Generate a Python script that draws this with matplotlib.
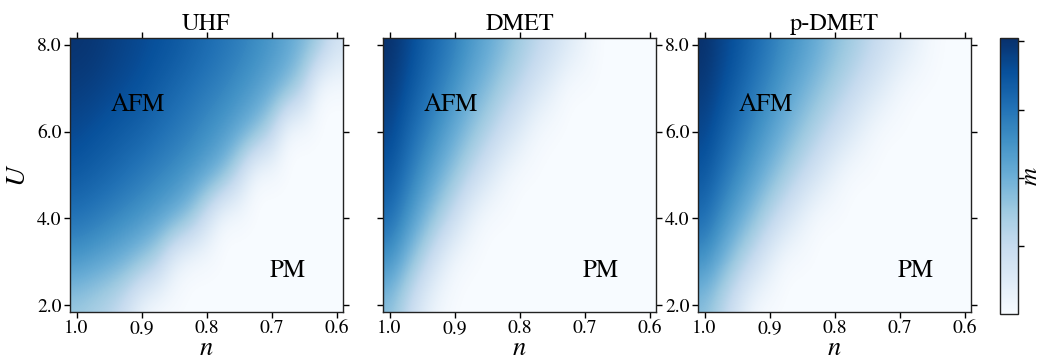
import numpy as np
import matplotlib
matplotlib.use("Agg")
import matplotlib.pyplot as plt
from matplotlib import colors

plt.rcParams["font.family"] = ["STIXGeneral", "DejaVu Serif"]
plt.rcParams["mathtext.fontset"] = "stix"

# Grid of fillings (columns) and interaction strengths (rows)
n_vals = [1.0, 0.975, 0.95, 0.925, 0.9, 0.875, 0.85, 0.825, 0.8,
          0.775, 0.75, 0.725, 0.7, 0.675, 0.65, 0.625, 0.6]
U_vals = [2.0, 3.0, 4.0, 5.0, 6.0, 7.0, 8.0]

# Staggered magnetization m(U, n)
m_uhf = [
    [.15, .135, .115, .08, .02, 0, 0, 0, 0, 0, 0, 0, 0, 0, 0, 0, 0],
    [.24, .225, .21, .19, .16, .12, .03, 0, 0, 0, 0, 0, 0, 0, 0, 0, 0],
    [.30, .29, .275, .26, .245, .225, .20, .16, .08, 0, 0, 0, 0, 0, 0, 0, 0],
    [.34, .33, .32, .305, .29, .275, .26, .24, .215, .18, .10, 0, 0, 0, 0, 0, 0],
    [.365, .355, .345, .335, .325, .31, .295, .28, .26, .24, .215, .18, .12, 0, 0, 0, 0],
    [.385, .38, .37, .36, .35, .335, .32, .305, .29, .275, .255, .235, .21, .18, .12, 0, 0],
    [.40, .395, .385, .375, .365, .355, .345, .33, .315, .30, .285, .265, .245, .22, .19, .15, .08],
]
m_dmet = [
    [.17, .11, .05, .01, 0, 0, 0, 0, 0, 0, 0, 0, 0, 0, 0, 0, 0],
    [.25, .19, .125, .06, .01, 0, 0, 0, 0, 0, 0, 0, 0, 0, 0, 0, 0],
    [.31, .255, .20, .145, .09, .03, 0, 0, 0, 0, 0, 0, 0, 0, 0, 0, 0],
    [.345, .30, .25, .205, .16, .11, .065, .02, 0, 0, 0, 0, 0, 0, 0, 0, 0],
    [.37, .33, .29, .25, .21, .17, .13, .09, .05, .01, 0, 0, 0, 0, 0, 0, 0],
    [.39, .355, .32, .285, .25, .21, .18, .14, .11, .07, .035, 0, 0, 0, 0, 0, 0],
    [.405, .375, .34, .31, .28, .245, .215, .185, .15, .12, .09, .057, .025, 0, 0, 0, 0],
]
m_pdmet = [
    [.17, .12, .065, .01, 0, 0, 0, 0, 0, 0, 0, 0, 0, 0, 0, 0, 0],
    [.25, .20, .145, .095, .04, 0, 0, 0, 0, 0, 0, 0, 0, 0, 0, 0, 0],
    [.31, .26, .215, .17, .12, .075, .03, 0, 0, 0, 0, 0, 0, 0, 0, 0, 0],
    [.345, .305, .265, .225, .185, .145, .105, .065, .025, 0, 0, 0, 0, 0, 0, 0, 0],
    [.37, .335, .30, .265, .23, .195, .16, .125, .09, .056, .02, 0, 0, 0, 0, 0, 0],
    [.39, .36, .33, .295, .265, .23, .20, .17, .14, .107, .075, .045, .012, 0, 0, 0, 0],
    [.405, .375, .35, .32, .29, .26, .235, .205, .175, .15, .12, .09, .063, .034, .006, 0, 0],
]

titles = ["UHF", "DMET", "p-DMET"]
panels = [m_uhf, m_dmet, m_pdmet]

x_ticks = [1.0, 0.9, 0.8, 0.7, 0.6]
y_ticks = [2.0, 4.0, 6.0, 8.0]
cbar_ticks = [0.1, 0.2, 0.3, 0.4]

W, H = 1043, 360
fig = plt.figure(figsize=(W / 100, H / 100), dpi=100)

norm = colors.Normalize(vmin=0.0, vmax=0.405)
cmap = plt.get_cmap("Blues")

lefts = [70, 383, 698]
ax_w, ax_bottom, ax_top = 273, 312, 38

dn = abs(n_vals[1] - n_vals[0]) / 2
dU = (U_vals[1] - U_vals[0]) / 2
extent = [n_vals[0] + dn, n_vals[-1] - dn, U_vals[0] - dU, U_vals[-1] + dU]

im = None
for i, (left, data, title) in enumerate(zip(lefts, panels, titles)):
    ax = fig.add_axes([left / W, 1 - ax_bottom / H, ax_w / W, (ax_bottom - ax_top) / H])
    im = ax.imshow(np.array(data), origin="lower", extent=extent, aspect="auto",
                   cmap=cmap, norm=norm, interpolation="bicubic")
    ax.set_xlim(1.01, 0.59)
    ax.set_ylim(1.85, 8.15)
    ax.set_xticks(x_ticks)
    ax.set_xticklabels([f"{v:.1f}" for v in x_ticks])
    ax.set_yticks(y_ticks)
    ax.set_yticklabels([f"{v:.1f}" for v in y_ticks])
    ax.tick_params(direction="out", top=True, right=True, labelsize=14,
                   length=4, width=1, pad=2)
    if i == 1:
        ax.tick_params(labelleft=False)
    ax.set_title(title, fontsize=17.5, pad=6)
    ax.set_xlabel("$n$", fontsize=19, labelpad=0)
    if i == 0:
        ax.set_ylabel("$U$", fontsize=20, labelpad=4)
    ax.text(0.905, 6.6, "AFM", fontsize=18, ha="center", va="center")
    ax.text(0.675, 2.8, "PM", fontsize=18, ha="center", va="center")
    for sp in ax.spines.values():
        sp.set_linewidth(1.0)
        sp.set_color("#222222")

cax = fig.add_axes([1000 / W, 1 - 314 / H, 18 / W, 276 / H])
cb = fig.colorbar(im, cax=cax, ticks=cbar_ticks)
cb.ax.set_yticklabels([])
cb.ax.tick_params(direction="out", length=4, width=1)
cb.set_label("$m$", fontsize=18, rotation=90, va="center")
cb.ax.yaxis.set_label_coords(1.7, 0.5)
cb.outline.set_linewidth(1.0)
cb.outline.set_edgecolor("#222222")

fig.savefig("out.png", dpi=100)
